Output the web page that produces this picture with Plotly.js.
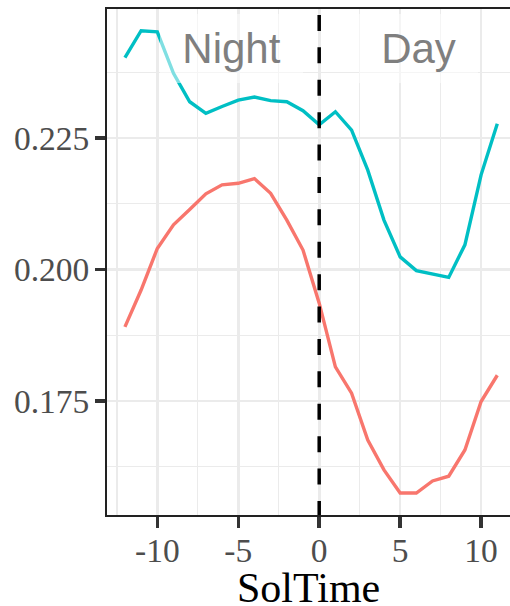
<!DOCTYPE html>
<html>
<head>
<meta charset="utf-8">
<script src="https://cdn.plot.ly/plotly-3.0.1.min.js"></script>
<style>html,body{margin:0;padding:0;background:#fff;}#chart{width:510px;height:606px;}</style>
</head>
<body>
<div id="chart"></div>
<script>
// Data
var solTime = [-12,-11,-10,-9,-8,-7,-6,-5,-4,-3,-2,-1,0,1,2,3,4,5,6,7,8,9,10,11];
var seriesTeal = [0.2403,0.2454,0.2452,0.2373,0.2319,0.2297,0.2310,0.2322,0.2328,0.2321,0.2319,0.2302,
                  0.2275,0.2300,0.2265,0.2189,0.2094,0.2024,0.1998,0.1991,0.1985,0.2047,0.2180,0.2277];
var seriesRed = [0.1891,0.1961,0.2040,0.2085,0.2114,0.2144,0.2161,0.2164,0.2173,0.2145,0.2094,0.2037,
                 0.1936,0.1815,0.1765,0.1676,0.1619,0.1575,0.1575,0.1598,0.1607,0.1657,0.1749,0.1799];
var xTickVals = [-10,-5,0,5,10];
var xTickText = ["-10","-5","0","5","10"];
var yTickVals = [0.175,0.200,0.225];
var yTickText = ["0.175","0.200","0.225"];
var xMinorVals = [-12.5,-7.5,-2.5,2.5,7.5];
var yMinorVals = [0.1625,0.1875,0.2125,0.2375];
var periodLabels = ["Night","Day"];
var periodLabelX = [-5.42,6.16];
var periodLabelY = 0.2420;
var dividerX = 0;
var xTitle = "SolTime";

var traces = [
  {x: solTime, y: seriesRed, type: 'scatter', mode: 'lines',
   line: {color: '#F8766D', width: 3.4}, hoverinfo: 'skip'},
  {x: solTime, y: seriesTeal, type: 'scatter', mode: 'lines',
   line: {color: '#00BFC4', width: 3.4}, hoverinfo: 'skip'}
];

var serif = 'Liberation Serif, Times New Roman, serif';
var annotations = periodLabels.map(function(t, i){
  return {x: periodLabelX[i], y: periodLabelY, xref: 'x', yref: 'y', text: t, showarrow: false,
    font: {family: 'Liberation Sans, Arial, sans-serif', size: 42, color: '#7F7F7F'},
    bgcolor: 'rgba(255,255,255,0.5)', borderpad: 0, borderwidth: 0,
    width: (i === 0 ? 143 : 119), height: 69, xanchor: 'center', yanchor: 'middle', valign: 'middle'};
});
// x-axis title placed as a paper annotation under the tick labels
annotations.push({x: 0.5, y: 0, xref: 'paper', yref: 'paper', text: xTitle, showarrow: false,
  xanchor: 'center', yanchor: 'middle', yshift: -73,
  font: {family: serif, size: 42, color: '#000000'}});

var layout = {
  width: 510, height: 606,
  margin: {l: 107, r: 0, t: 9, b: 91, pad: 0},
  paper_bgcolor: '#ffffff', plot_bgcolor: '#ffffff',
  showlegend: false,
  xaxis: {
    range: [-13.107, 11.785], autorange: false,
    tickmode: 'array', tickvals: xTickVals, ticktext: xTickText,
    ticks: 'outside', ticklen: 11, tickwidth: 3.5, tickcolor: '#333333',
    showline: true, linecolor: '#222222', linewidth: 2, mirror: true,
    showgrid: true, gridcolor: '#EBEBEB', gridwidth: 2.6,
    minor: {tickmode: 'array', tickvals: xMinorVals, showgrid: true, gridcolor: '#EBEBEB', gridwidth: 1.4, ticks: ''},
    zeroline: false,
    tickfont: {family: serif, size: 33.5, color: '#4D4D4D'},
    ticklabelstandoff: -6,
    automargin: false
  },
  yaxis: {
    range: [0.15333, 0.24953], autorange: false,
    tickmode: 'array', tickvals: yTickVals, ticktext: yTickText,
    ticks: 'outside', ticklen: 10, tickwidth: 3.5, tickcolor: '#333333',
    showline: true, linecolor: '#222222', linewidth: 2, mirror: false,
    showgrid: true, gridcolor: '#EBEBEB', gridwidth: 2.6,
    minor: {tickmode: 'array', tickvals: yMinorVals, showgrid: true, gridcolor: '#EBEBEB', gridwidth: 1.4, ticks: ''},
    zeroline: false,
    tickfont: {family: serif, size: 33.5, color: '#4D4D4D'},
    ticklabelstandoff: -1,
    automargin: false
  },
  shapes: [
    {type: 'line', xref: 'x', yref: 'y', x0: dividerX, x1: dividerX, y0: 0.2484, y1: 0.15333,
     line: {color: '#000000', width: 3.5, dash: '16px,16.4px'}, layer: 'above'}
  ],
  annotations: annotations
};

Plotly.newPlot('chart', traces, layout, {displayModeBar: false, staticPlot: true});
</script>
</body>
</html>
